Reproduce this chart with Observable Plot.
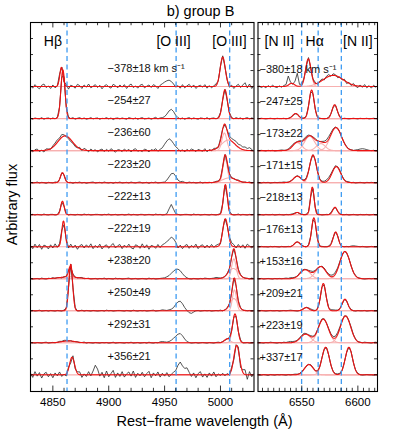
<!DOCTYPE html>
<html><head><meta charset="utf-8">
<script src="https://cdn.jsdelivr.net/npm/d3@7"></script>
<script src="https://cdn.jsdelivr.net/npm/@observablehq/plot@0.6"></script>
<style>
body{margin:0;background:#fff;font-family:"Liberation Sans",Arial,Helvetica,sans-serif;}
#wrap{position:relative;width:399px;height:435px;overflow:hidden;}
#wrap svg{position:absolute;top:0;}
.lbl{position:absolute;font-size:14.5px;line-height:17px;color:#000;white-space:nowrap;text-align:center;}
</style></head><body>
<div id="wrap">
  <div class="lbl" style="left:1px;width:399px;top:3px;">b) group B</div>
  <div class="lbl" style="left:5px;width:399px;top:413px;">Rest−frame wavelength (Å)</div>
  <div class="lbl" style="left:-38px;width:100px;top:196px;transform:rotate(-90deg);">Arbitrary flux</div>
</div>
<script>
// ---------------- data ----------------
const velLeft = ["−378±18 km s⁻¹","−254±27","−236±60","−223±20","−222±13","−222±19","+238±20","+250±49","+292±31","+356±21"];
const velRight = ["−380±18 km s⁻¹","−247±25","−173±22","−171±15","−218±13","−176±13","+153±16","+209±21","+223±19","+337±17"];

const leftLineNames = ["Hβ","[O III]","[O III]"];
const leftLineLabelWave = [4850, 4958, 5008];
const leftRestWave = [4862.68, 4960.30, 5008.24];
const rightLineNames = ["[N II]","Hα","[N II]"];
const rightLineLabelWave = [6530, 6561.5, 6600];
const rightRestWave = [6549.86, 6564.61, 6585.27];

const leftDomain = [4830, 5030];
const rightDomain = [6511, 6617.5];
const leftTicks = [4850, 4900, 4950, 5000];
const rightTicks = [6550, 6600];

// Gaussian fit components per spectrum: [centre (Å), amplitude (row units), sigma (Å)]
const leftFits = [
  [[4857.7,0.60,1.5],[5002.0,0.92,2.3]],
  [[4859.0,1.52,1.8],[5004.0,0.90,2.2]],
  [[4861.0,0.46,6.5],[5003.5,0.55,2.2],[5007.0,0.33,6.0]],
  [[4858.6,0.31,1.8],[5004.2,0.75,2.0],[5008.0,0.15,6.0]],
  [[4858.6,0.42,1.5],[5004.4,0.94,1.7]],
  [[4859.5,0.80,1.5],[5004.4,0.87,2.3]],
  [[4865.5,0.32,1.5],[4864.0,0.06,8.0],[5012.0,0.62,2.0],[5011.5,0.32,4.5]],
  [[4866.0,1.45,1.7],[5012.5,0.65,1.8],[5012.0,0.38,3.5]],
  [[4864.0,0.06,6.0],[5013.0,0.90,2.2],[5006.0,0.12,2.5]],
  [[4867.2,0.55,2.2],[5014.5,0.92,2.5]]
];
const rightFits = [
  [[6541.0,0.10,2.5],[6555.8,0.85,2.4],[6578.0,0.35,9.0]],
  [[6544.5,0.16,2.5],[6558.8,0.89,2.2],[6579.3,0.43,2.3]],
  [[6546.0,0.25,4.0],[6557.0,0.45,4.5],[6567.0,0.22,4.0],[6580.5,0.72,5.0]],
  [[6546.0,0.20,3.5],[6560.0,0.86,3.0],[6580.8,0.50,3.8]],
  [[6546.0,0.07,2.0],[6559.4,0.86,1.6],[6579.6,0.23,2.0]],
  [[6546.0,0.15,2.5],[6560.8,0.90,2.0],[6580.2,0.46,2.2]],
  [[6553.0,0.28,4.5],[6567.0,0.38,4.5],[6588.5,0.85,4.5]],
  [[6554.0,0.10,2.5],[6569.2,0.85,2.3],[6588.5,0.36,2.5]],
  [[6553.4,0.27,4.5],[6569.2,0.74,4.5],[6589.0,0.84,4.5]],
  [[6556.4,0.32,4.0],[6571.3,0.86,3.3],[6592.0,0.86,3.2]]
];

// observed spectra: departure from the fit, hundredths of a row, every 2 Å from 4830 Å / 6512 Å
const leftResid = [
 [3,-5,6,-2,-7,4,8,-3,2,-6, 5,-4,-1,7,2,-3,6,-8,4,1, -5,7,3,-6,5,-2,8,-4,1,6, -3,4,-7,2,6,-1,-5,7,3,-4, 5,-2,6,-6,3,8,-3,2,-5,4, 7,-4,1,5,-3,6,2,-6,4,9, 14,18,20,16,8,-2,3,-5,6,-4, 2,7,-3,5,-6,1,4,-2,6,-5, 3,-4,2,5,-3,1,4,-2,3,-5, 4,-6,2,7,-3,5,12,-4,8,-6,3],
 [1,-2,2,0,-1,3,-2,1,2,-1, 2,-1,1,-2,0,1,-1,2,0,3, -2,1,3,-1,2,-2,0,3,-1,1, 2,-2,1,0,3,-1,2,-3,1,2, -1,2,0,-2,3,1,-1,2,-2,1, 3,-1,0,2,-2,1,4,-1,2,3, 6,14,24,29,22,10,3,-1,2,-2, 1,3,-1,2,0,-2,2,1,-1,3, -2,1,2,-1,0,2,-1,1,-2,2, 1,-1,3,0,2,-2,1,3,-1,2,0],
 [2,-4,3,5,-3,1,-5,4,2,-2, 4,6,8,5,9,4,-2,-4,-6,-3, -5,-2,4,-3,6,2,-4,5,-1,3, -4,2,5,-3,4,-2,6,1,-5,3, 2,-3,5,-1,4,-4,3,6,-2,1, -3,5,2,-4,3,1,6,-2,4,9, 20,30,37,32,22,12,6,-2,3,-4, 4,-1,5,2,-3,4,1,-2,6,-4, 3,-2,4,1,-3,5,2,-2,3,6, 8,10,12,9,11,8,10,6,9,4,-3],
 [1,-1,0,2,-1,1,0,-2,1,0, -1,2,0,-1,1,2,-1,0,1,-2, 1,0,2,-1,1,-2,0,1,2,-1, 0,1,-1,2,0,-1,1,-2,1,0, 2,-1,0,1,-1,2,0,-1,1,2, -1,0,1,-2,1,0,2,-1,0,1, 2,8,18,28,29,20,8,3,4,1, -1,2,0,1,-1,0,2,-1,1,0, 1,-1,0,2,1,-1,0,1,-1,2, 0,1,-1,2,0,-1,1,0,2,-1,1],
 [0,1,-1,1,0,-1,2,0,-1,1, 1,-1,0,2,-1,0,1,-1,1,0, -1,1,0,-1,2,0,1,-1,0,1, 1,0,-1,1,0,2,-1,0,1,-1, 0,1,-1,0,2,-1,1,0,-1,1, 1,-1,0,1,0,-1,2,0,1,-1, 0,3,18,32,17,3,1,-1,0,1, 1,0,-1,2,0,1,-1,0,1,0, -1,1,0,-1,1,0,1,-1,0,1, 1,-1,0,2,-1,1,0,-1,1,0,1],
 [4,-6,8,-3,7,-8,5,2,-7,6, -4,9,-2,5,3,-7,6,-5,8,-3, 5,-8,3,7,-4,6,-2,9,-6,4, -3,8,-7,2,6,-5,4,10,-4,3, 7,-6,5,-2,8,-3,-7,6,3,-5, 9,-4,6,-8,4,2,-5,7,-3,6, 10,16,22,30,25,14,-4,5,-6,3, 7,-5,4,-2,8,-6,3,6,-4,5, -3,7,-2,4,6,-5,2,1,-2,5, 8,6,-4,7,-3,6,-5,8,2,-4,5],
 [1,-1,0,1,-1,2,0,-1,1,0, 2,-1,1,0,-2,1,0,1,-1,2, 0,-1,1,2,-1,0,1,-1,0,1, -1,1,0,2,-1,1,0,-1,2,0, 1,-1,0,1,2,-1,0,1,-1,0, 1,0,-1,2,0,1,-1,0,1,2, 3,6,10,17,24,29,30,25,16,8, 3,0,-1,1,0,-1,1,0,2,1, 0,1,2,4,3,1,0,-1,1,0, 1,-1,0,2,1,-1,0,1,-1,2,0],
 [0,1,-1,0,2,-1,0,1,-1,1, 0,-1,1,0,-1,2,0,-1,1,0, 1,-1,0,2,-1,1,0,-1,1,0, -1,0,1,-1,2,0,1,-1,0,1, 1,0,-1,1,0,-1,2,0,-1,1, 0,1,-1,0,1,2,-1,0,1,3, 2,1,3,5,10,20,28,30,22,10, 1,-6,-8,-4,0,1,-1,0,1,0, 1,-1,0,1,0,2,-1,0,1,-1, 0,1,-1,2,0,-1,1,0,1,-1,0],
 [1,0,-1,1,0,-1,1,2,-1,0, 1,-1,0,2,1,3,2,0,1,-1, 0,1,-1,0,2,-1,1,0,-1,1, 0,-1,1,0,1,-1,0,2,-1,0, 1,0,-1,1,0,2,-1,0,1,-1, 0,1,-1,2,0,-1,1,0,3,4, 3,2,4,8,14,21,27,29,22,12, 4,1,-1,0,1,-1,0,1,0,-1, 1,0,-1,1,2,0,1,-1,0,1, 0,-1,1,0,2,-1,0,1,-1,0,1],
 [5,-8,10,-4,7,-10,3,8,-6,4, -9,6,-3,9,-5,2,-7,5,-10,8, -6,4,9,-8,3,-5,10,-3,12,30, 18,-4,8,-9,12,-6,4,14,-8,6, -5,10,-7,3,9,-4,12,-8,5,-3, 8,-6,4,11,-9,6,-3,9,-7,5, -4,7,-6,2,8,14,30,40,28,20, 22,8,-5,6,-9,4,10,-7,3,-8, 6,-4,9,-6,3,-2,5,-3,4,-5, 6,-8,4,10,-12,8,15,-14,10,-6,4]
];
const rightResid = [
 [2,-3,1,-4,3,-2,4,-1,-3,2, -2,3,5,28,4,-2,12,40,6,3, 2,-3,4,-2,1,3,-4,2,5,-3, 4,6,-2,5,3,-4,2,-3,4,-5, 3,-4,5,-2,-5,4,-3,6,-4,3, -5,4,-2,5],
 [0,1,0,-1,0,1,0,-1,1,0, 0,1,-1,0,1,0,-1,1,0,0, 1,0,-1,0,1,-1,0,1,0,-1, 0,1,0,-1,1,0,0,-1,1,0, -1,0,1,0,-1,1,0,0,1,-1, 0,1,0,-1],
 [0,1,0,-1,1,0,1,-1,0,1, 2,1,0,2,3,4,2,1,3,2, 4,5,3,1,2,3,1,0,2,4, 6,8,6,4,2,0,1,-1,0,1, 0,1,0,2,3,5,6,5,3,1, 0,1,-1,0],
 [0,-1,1,0,1,-1,0,1,0,1, 1,2,1,0,1,-1,0,2,1,0, 1,2,0,-1,1,2,1,0,2,3, 5,6,5,3,4,2,3,1,0,1, 2,0,1,-1,0,1,0,-1,1,0, 1,0,-1,1],
 [1,0,-1,1,0,0,1,-1,0,1, 0,-1,1,0,1,2,1,0,-1,1, 0,1,0,-1,1,0,0,1,-1,0, 1,0,2,1,0,-1,1,0,0,1, -1,0,1,0,-1,1,0,0,1,-1, 0,1,0,-1],
 [0,1,0,0,-1,1,0,1,0,-1, 1,0,0,1,-1,0,1,0,0,1, 0,-1,1,0,1,0,0,-1,1,0, 0,1,2,1,0,1,0,-1,0,1, 0,2,3,2,1,0,1,0,-1,0, 1,0,0,1],
 [0,1,-1,0,1,0,-1,1,0,1, 0,1,2,1,3,2,1,0,2,3, 2,1,2,4,3,2,1,0,2,3, 2,3,4,5,6,4,3,2,1,0, 1,0,-1,1,0,1,0,-1,0,1, 0,1,0,-1],
 [0,1,0,-1,0,1,0,0,1,-1, 0,1,0,1,2,1,0,-1,0,1, 0,1,2,3,2,0,1,0,-1,1, 0,1,2,3,2,1,0,-1,0,1, 0,1,0,-1,1,0,0,1,-1,0, 1,0,0,1],
 [1,0,-1,1,0,2,1,0,-1,1, 0,2,1,3,4,3,2,1,2,3, 4,2,1,3,2,0,1,2,3,2, 1,2,3,4,5,6,4,3,2,1, 2,4,1,0,-1,1,0,2,1,0, -1,1,2,0],
 [0,-1,1,0,-2,1,0,-1,1,0, 1,0,-1,1,0,1,2,1,0,2, 1,0,1,2,1,0,-1,0,1,0, 1,0,-1,0,1,2,1,0,1,-1, 0,1,-1,0,1,0,-1,0,1,0, 0,-1,1,0]
];

// ---------------- drawing ----------------
const FONT = "'Liberation Sans', Arial, Helvetica, sans-serif";
const RED = "#ec1212", PINK = "#f7b0b0", BLUE = "#3f9cf2", DATA = "#2a2a2a";
const nRows = 10;
const yDomain = [-0.52, 11];
const gauss = (c, lam) => c[1] * Math.exp(-((lam - c[0]) ** 2) / (2 * c[2] * c[2]));
const fitAt = (comps, lam) => d3.sum(comps, c => gauss(c, lam));

function panel({domain, width, left, ml, mr, fits, resid, gridStart, ticks, minorStep, rest, names, nameWave, vel, velWave, velDy}) {
  const fine = d3.range(domain[0], domain[1] + 0.001, 0.25);
  const grid = d3.range(gridStart, domain[1] + 0.6, 2);
  const comps = [], totals = [], obs = [];
  fits.forEach((row, r) => {
    const base = nRows - 1 - r;
    row.forEach((c, j) => fine.forEach(l => comps.push({x: l, y: base + gauss(c, l), z: r + "-" + j})));
    fine.forEach(l => totals.push({x: l, y: base + fitAt(row, l), z: r}));
    grid.forEach((l, k) => obs.push({x: l, y: base + fitAt(row, l) + (resid[r][k] ?? 0) / 100, z: r}));
  });
  const minor = d3.range(Math.ceil(domain[0] / minorStep) * minorStep, domain[1], minorStep).filter(v => v > domain[0] + 0.5 && v < domain[1] - 0.5);
  const major = minor.filter(v => ticks.includes(v));
  const yt = d3.range(0, 10.51, 0.5);
  const dx = 3 / ((width - ml - mr) / (domain[1] - domain[0]));
  const vrows = vel.map((t, r) => ({t, y: nRows - 1 - r + velDy}));
  const svg = Plot.plot({
    width, height: 435, marginLeft: ml, marginRight: mr, marginTop: 22, marginBottom: 44,
    x: {domain, label: null}, y: {domain: yDomain, axis: null},
    style: {fontFamily: FONT, background: "transparent", overflow: "visible"},
    marks: [
      Plot.line(comps, {x: "x", y: "y", z: "z", stroke: PINK, strokeWidth: 1.1, clip: true}),
      Plot.line(obs, {x: "x", y: "y", z: "z", stroke: DATA, strokeWidth: 0.8, clip: true}),
      Plot.line(totals, {x: "x", y: "y", z: "z", stroke: RED, strokeWidth: 1.05, clip: true}),
      Plot.ruleX(rest, {x: d => d, stroke: BLUE, strokeWidth: 1.3, strokeDasharray: "5,3.5"}),
      Plot.ruleX(minor, {x: d => d, y1: yDomain[0], y2: d => yDomain[0] + (major.includes(d) ? 0.17 : 0.1), stroke: "#000", strokeWidth: 0.8}),
      Plot.ruleX(minor, {x: d => d, y1: yDomain[1], y2: d => yDomain[1] - (major.includes(d) ? 0.17 : 0.1), stroke: "#000", strokeWidth: 0.8}),
      Plot.ruleY(yt, {y: d => d, x1: domain[0], x2: domain[0] + dx, stroke: "#000", strokeWidth: 0.8}),
      Plot.ruleY(yt, {y: d => d, x1: domain[1], x2: domain[1] - dx, stroke: "#000", strokeWidth: 0.8}),
      Plot.frame({stroke: "#000", strokeWidth: 1.1}),
      Plot.text(vrows, {x: () => velWave, y: "y", text: "t", textAnchor: "start", fontSize: 11, fill: "#111"}),
      Plot.text(names, {x: (d, i) => nameWave[i], y: () => 10.4, text: d => d, fontSize: 14, fill: "#000"}),
      Plot.axisX(ticks, {tickSize: 0, tickPadding: 6, tickFormat: d => String(d), fontSize: 11.5, label: null})
    ]
  });
  svg.style.left = left + "px";
  document.getElementById("wrap").appendChild(svg);
}

panel({domain: leftDomain, width: 260, left: 0, ml: 30, mr: 6.5, fits: leftFits, resid: leftResid, gridStart: 4830,
  ticks: leftTicks, minorStep: 10, rest: leftRestWave, names: leftLineNames, nameWave: leftLineLabelWave,
  vel: velLeft, velWave: 4899, velDy: 0.57});
panel({domain: rightDomain, width: 149, left: 250, ml: 7.5, mr: 22, fits: rightFits, resid: rightResid, gridStart: 6512,
  ticks: rightTicks, minorStep: 5, rest: rightRestWave, names: rightLineNames, nameWave: rightLineLabelWave,
  vel: velRight, velWave: 6512.3, velDy: 0.53});
</script>
</body></html>
